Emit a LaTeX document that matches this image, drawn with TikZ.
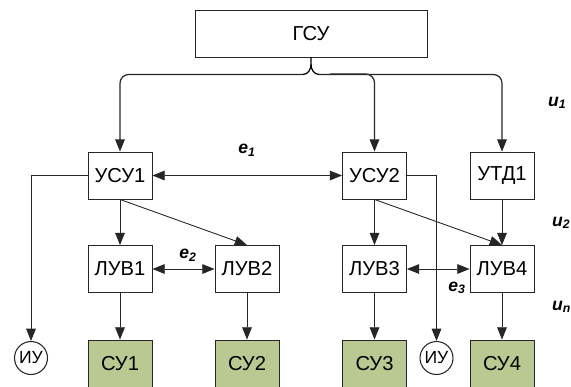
\documentclass[tikz,border=0pt]{standalone}
\usepackage{fontspec}
\setmainfont{Liberation Sans}
\usepackage{tikz}
\usetikzlibrary{arrows.meta,positioning}
\definecolor{sugreen}{RGB}{186,201,146}

\begin{document}
\begin{tikzpicture}[x=0.02cm,y=-0.02cm,
        font=\fontsize{11.5}{13}\selectfont,
        blk/.style={rectangle,draw=black!85,line width=.5pt,minimum width=1.28cm,minimum height=.94cm,inner sep=0pt},
        sublk/.style={blk,fill=sugreen},
        iu/.style={circle,draw=black!85,line width=.6pt,minimum size=.66cm,inner sep=0pt,font=\fontsize{10}{11}\selectfont},
        flow/.style={draw=black!85,line width=.5pt,-{Triangle[length=7pt,width=5.5pt]}},
        both/.style={draw=black!85,line width=.5pt,{Triangle[length=7pt,width=5.5pt]}-{Triangle[length=7pt,width=5.5pt]}},
        lbl/.style={font=\fontsize{10}{12}\selectfont\bfseries\itshape,inner sep=1pt}]
    \useasboundingbox (0,0) rectangle (571,386);

    \node[blk,minimum width=4.64cm] (gsu) at (311,33.5) {ГСУ};

    \node[blk] (usu1) at (120,175.5) {УСУ1};
    \node[blk] (usu2) at (374.5,175.5) {УСУ2};
    \node[blk] (utd1) at (502,175.5) {УТД1};

    \node[blk] (luv1) at (120,269) {ЛУВ1};
    \node[blk] (luv2) at (247,269) {ЛУВ2};
    \node[blk] (luv3) at (374.5,269) {ЛУВ3};
    \node[blk] (luv4) at (502,269) {ЛУВ4};

    \node[sublk] (su1) at (120,363.5) {СУ1};
    \node[sublk] (su2) at (247,363.5) {СУ2};
    \node[sublk] (su3) at (374.5,363.5) {СУ3};
    \node[sublk] (su4) at (502,363.5) {СУ4};

    \node[iu] (iu1) at (31,358) {ИУ};
    \node[iu] (iu2) at (436.5,358) {ИУ};

    % brace tip under ГСУ, then the bus
    \draw[line width=.7pt] (gsu.south) -- ++(0,7) to[out=-90,in=0] ++(-8,10) coordinate (busl);
    \draw[line width=.7pt] (gsu.south) ++(0,7) to[out=-90,in=180] ++(8,10) coordinate (busr);
    \coordinate (busmid) at (330,74);
    \draw[flow,line width=.7pt,rounded corners=5pt] (busl) -| (usu1);
    \draw[flow,line width=.7pt,rounded corners=5pt] (busr) -| (utd1);
    \draw[flow,line width=.7pt,rounded corners=5pt] (busmid) -| (usu2);

    \draw[both] (usu1) -- (usu2);
    \draw[flow] (usu1) -- (luv1);
    \draw[flow] (usu1.south) -- (luv2.north);
    \draw[flow] (usu2) -- (luv3);
    \draw[flow] (usu2.south) -- (luv4.north);
    \draw[flow] (utd1) -- (luv4);

    \draw[both] (luv1) -- (luv2);
    \draw[both] (luv3) -- (luv4);

    \draw[flow] (luv1) -- (su1);
    \draw[flow] (luv2) -- (su2);
    \draw[flow] (luv3) -- (su3);
    \draw[flow] (luv4) -- (su4);

    \draw[flow] (usu1.west) -| (iu1);
    \draw[flow] (usu2.east) -| (iu2);

    \node[lbl] (e1) at (247,150) {e\textsubscript{1}};
    \node[lbl] (e2) at (188,255) {e\textsubscript{2}};
    \node[lbl] (e3) at (457,288) {e\textsubscript{3}};
    \node[lbl,anchor=west] (u1) at (546,103) {u\textsubscript{1}};
    \node[lbl,anchor=west] (u2) at (550,223) {u\textsubscript{2}};
    \node[lbl,anchor=west] (un) at (550,307) {u\textsubscript{n}};
\end{tikzpicture}
\end{document}
